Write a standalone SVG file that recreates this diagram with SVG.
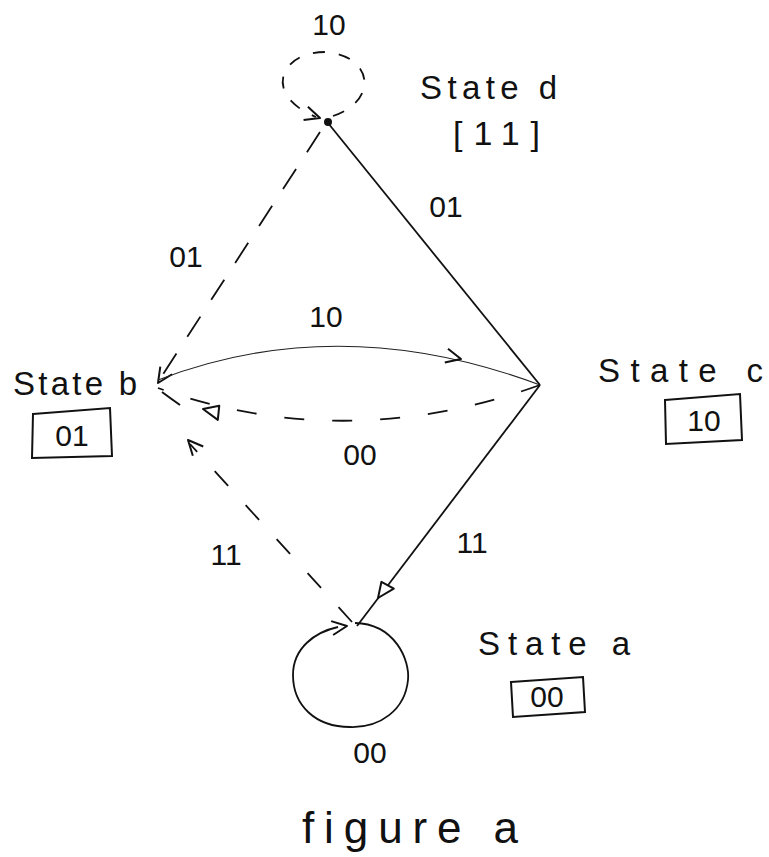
<svg xmlns="http://www.w3.org/2000/svg" xmlns:xlink="http://www.w3.org/1999/xlink" width="769" height="857" viewBox="0 0 769 857">
<style>
  .t{font-family:"Liberation Sans","DejaVu Sans",sans-serif;fill:#111;}
  .lbl{font-size:30px;text-anchor:middle;}
  .st{font-size:33px;}
  .box{fill:none;stroke:#111;stroke-width:2;}
  .solid{fill:none;stroke:#111;stroke-width:1.8;}
  .thin{fill:none;stroke:#222;stroke-width:1.1;}
  .dash{fill:none;stroke:#111;stroke-width:1.8;stroke-dasharray:24 20;}
  .head{fill:none;stroke:#111;stroke-width:2;stroke-linejoin:round;}
  .tri{fill:#fff;stroke:#111;stroke-width:2;stroke-linejoin:round;}
</style>
<defs>
  <path id="vhead" d="M-15,-7 L0,0 L-15,7"/>
  <path id="trih" d="M0,0 L-17,-7 L-15,7 Z"/>
</defs>
<rect width="769" height="857" fill="#fff"/>

<g id="connectors">
  <!-- d self loop (10) -->
  <path class="dash" style="stroke-dasharray:12 14" d="M333,116 C380,100 372,55 325,52 C280,52 262,95 316,117"/>
  <use xlink:href="#vhead" class="head" transform="translate(320,118) rotate(18)"/>
  <!-- d -> c (01) -->
  <path class="solid" d="M328,123 L540,385"/>
  <!-- d -> b (01) dashed -->
  <path class="dash" d="M320,132 L158,382"/>
  <use xlink:href="#vhead" class="head" transform="translate(158,383) rotate(123)"/>
  <path class="head" d="M162,392 Q170,398 180,405"/>
  <!-- b -> c (10) -->
  <path class="thin" d="M158,380 Q340,310 540,385"/>
  <use xlink:href="#vhead" class="head" transform="translate(461,359) rotate(13)"/>
  <!-- c -> b (00) dashed -->
  <path class="dash" style="stroke-dasharray:20 28" d="M540,385 Q345,455 158,388"/>
  <use xlink:href="#trih" class="tri" transform="translate(203,409) rotate(194)"/>
  <!-- c -> a (11) -->
  <path class="solid" d="M540,385 L357,626"/>
  <use xlink:href="#trih" class="tri" transform="translate(378,598) rotate(127)"/>
  <!-- a -> b (11) dashed -->
  <path class="dash" style="stroke-dasharray:20 26" d="M352,622 L190,444"/>
  <use xlink:href="#vhead" class="head" transform="translate(188,440) rotate(228)"/>
  <!-- a self loop (00) -->
  <path class="solid" d="M355,623 C395,624 410,660 408,680 C405,710 380,728 350,727 C315,727 293,705 293,675 C293,648 315,632 338,627"/>
  <use xlink:href="#vhead" class="head" transform="translate(347,626) rotate(-8)"/>
</g>

<g id="node-d">
  <circle cx="328" cy="122" r="4" fill="#111"/>
  <text class="t st" x="420" y="99" textLength="137" lengthAdjust="spacing">State d</text>
  <text class="t" x="453" y="145" font-size="34" textLength="87" lengthAdjust="spacing">[11]</text>
</g>

<g id="node-b">
  <text class="t st" x="13" y="395" textLength="124" lengthAdjust="spacing">State b</text>
  <path class="box" d="M33,414 L110,408 L112,456 L32,458 Z"/>
  <text class="t lbl" x="72" y="446">01</text>
</g>

<g id="node-c">
  <text class="t st" x="598" y="382" textLength="165" lengthAdjust="spacing">State c</text>
  <path class="box" d="M665,400 L740,394 L742,440 L666,444 Z"/>
  <text class="t lbl" x="704" y="431">10</text>
</g>

<g id="node-a">
  <text class="t st" x="478" y="655" textLength="152" lengthAdjust="spacing">State a</text>
  <path class="box" d="M511,682 L583,677 L585,712 L513,717 Z"/>
  <text class="t lbl" x="547" y="707" font-size="26">00</text>
</g>

<g id="labels">
  <text class="t lbl" x="329" y="35">10</text>
  <text class="t lbl" x="446" y="217">01</text>
  <text class="t lbl" x="186" y="267">01</text>
  <text class="t lbl" x="326" y="327">10</text>
  <text class="t lbl" x="360" y="465">00</text>
  <text class="t lbl" x="226" y="565">11</text>
  <text class="t lbl" x="472" y="553">11</text>
  <text class="t lbl" x="370" y="763">00</text>
  <text class="t" x="302" y="843" font-size="44" textLength="216" lengthAdjust="spacing">figure a</text>
</g>
</svg>
